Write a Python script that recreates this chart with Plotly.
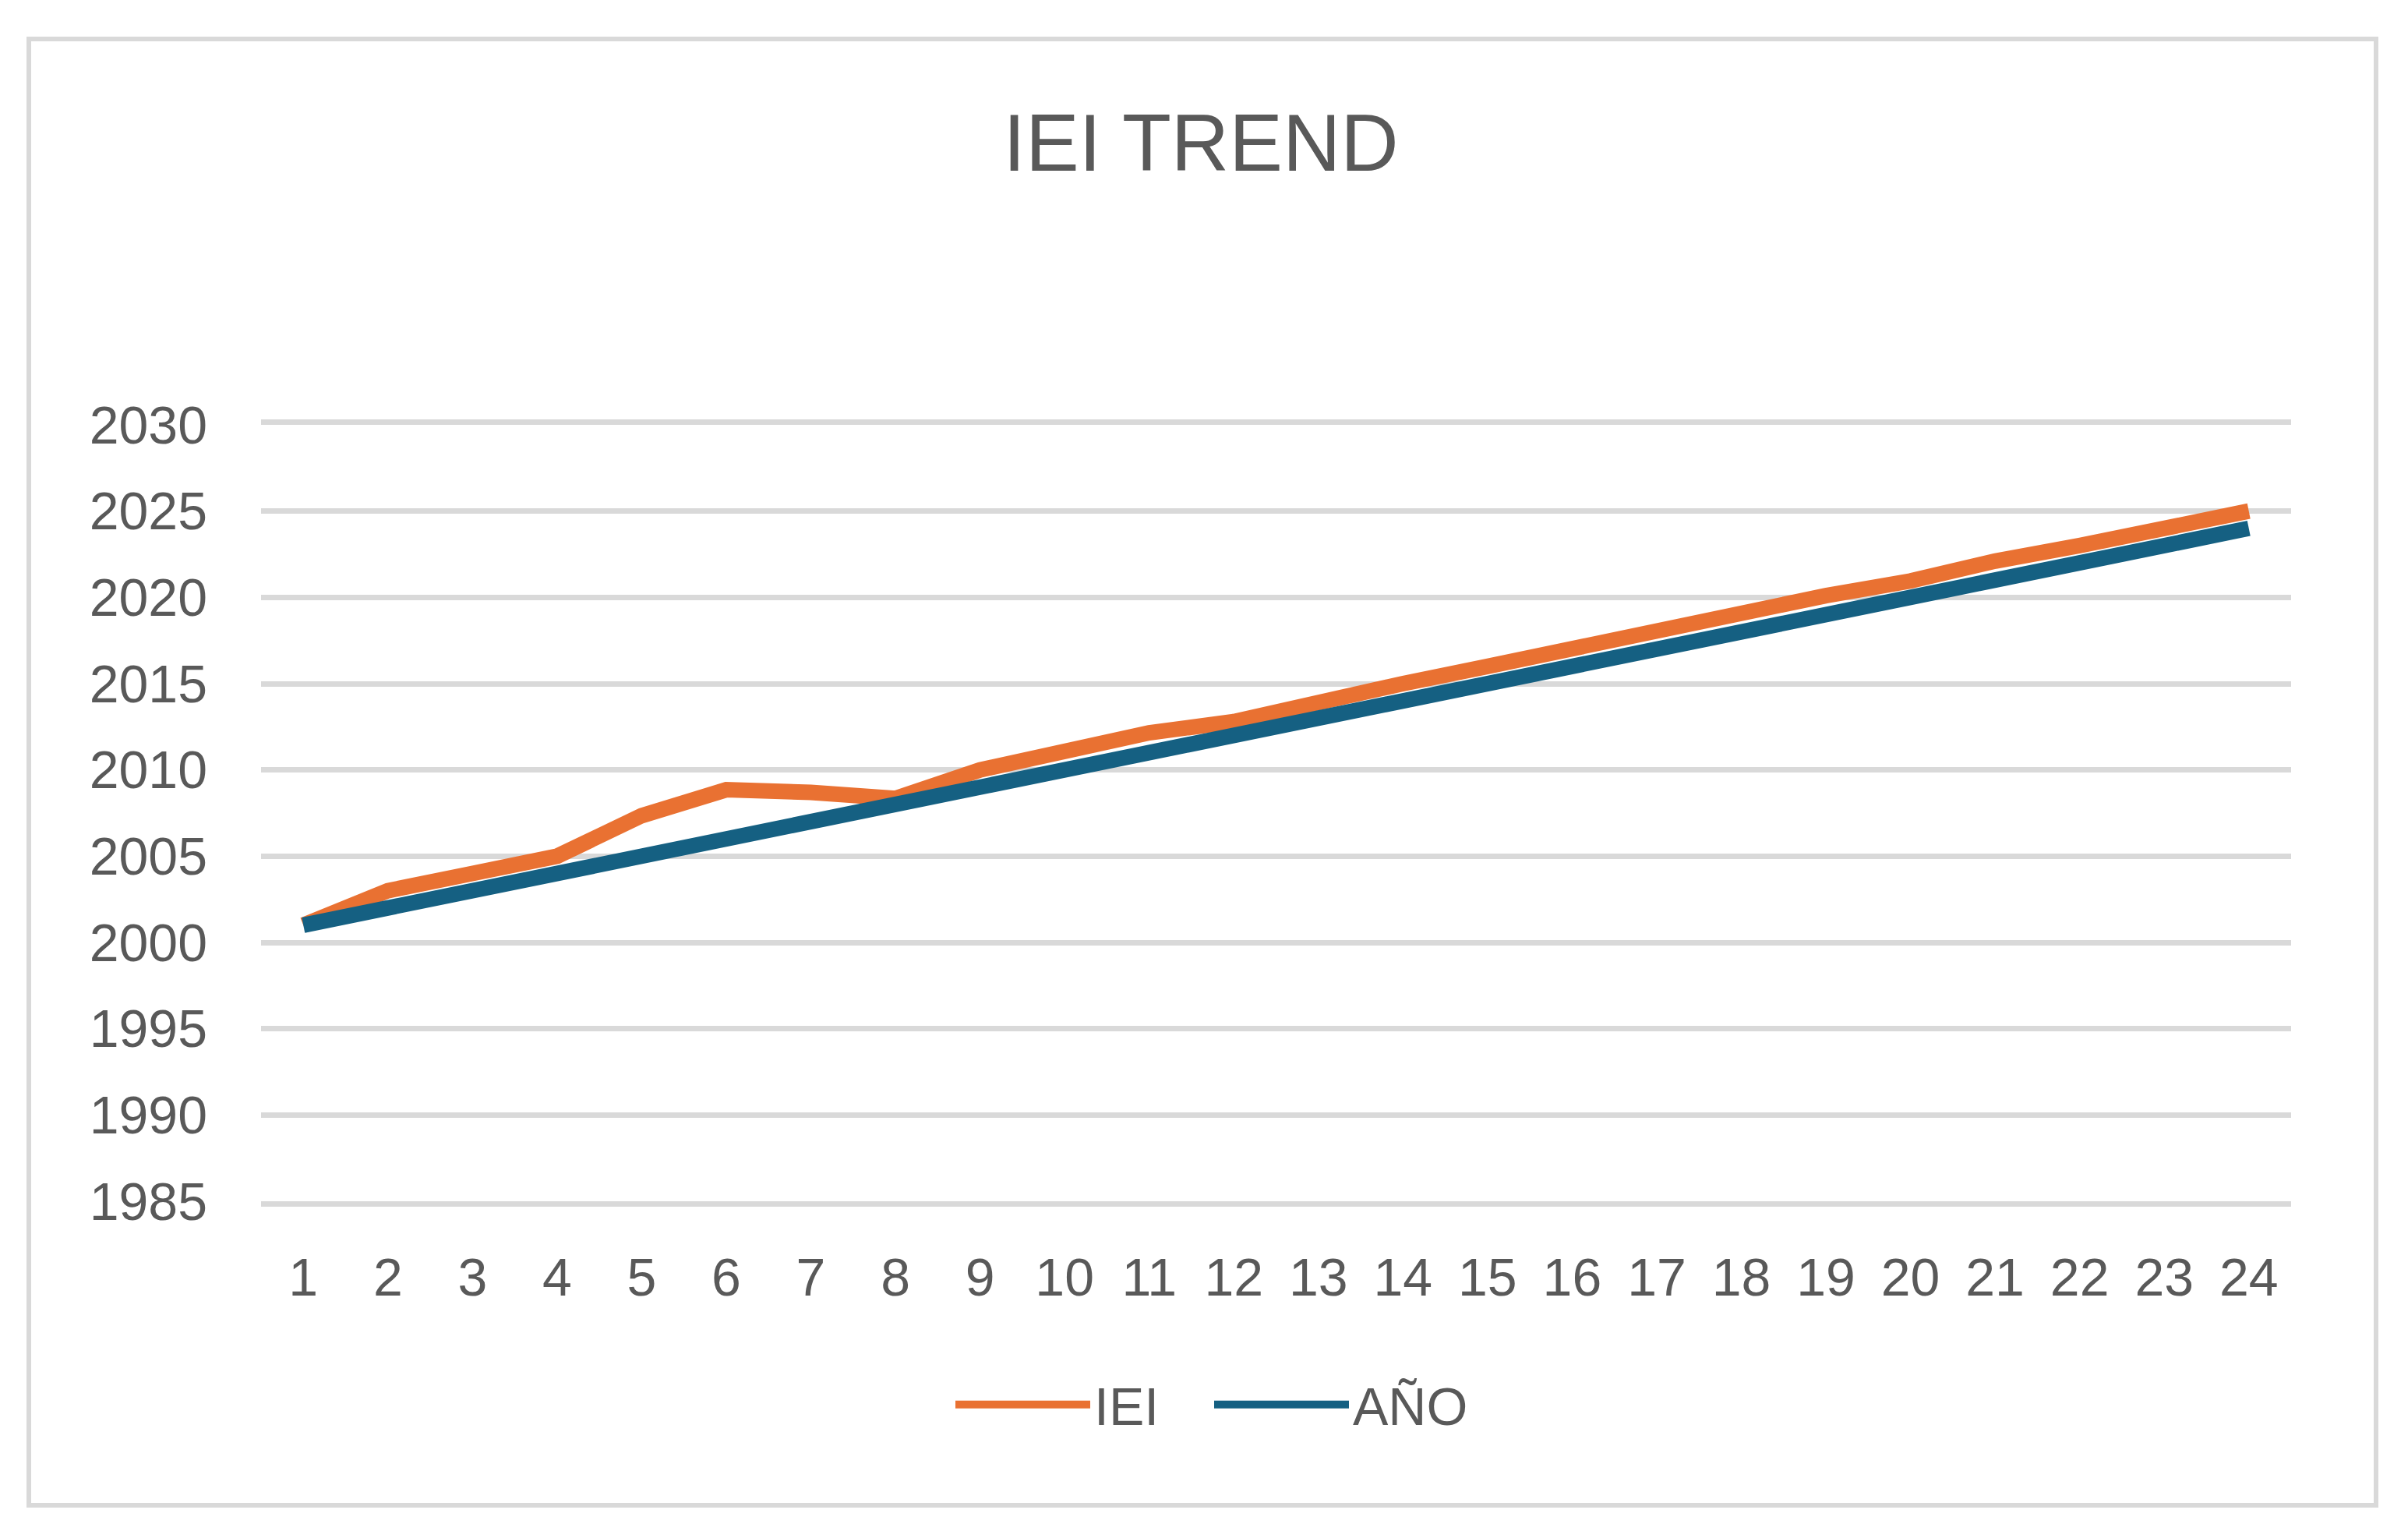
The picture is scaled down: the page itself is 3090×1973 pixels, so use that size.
import plotly.graph_objects as go

categories = list(range(1, 25))
iei = [2001, 2003, 2004, 2005, 2007.35, 2008.85, 2008.7, 2008.35, 2010, 2011,
       2012.15, 2012.8, 2014, 2015, 2016, 2017.05, 2018, 2019.1, 2020.1, 2020.95,
       2022.1, 2023, 2024, 2025]
anio = [2001, 2002, 2003, 2004, 2005, 2006, 2007, 2008, 2009, 2010,
        2011, 2012, 2013, 2014, 2015, 2016, 2017, 2018, 2019, 2020,
        2021, 2022, 2023, 2024]
y_ticks = [1985, 1990, 1995, 2000, 2005, 2010, 2015, 2020, 2025, 2030]

OFF = 8  # default body margin of the html page
W, H = 3090 - OFF, 1973 - OFF
PL, PR, PT, PB = 335, 2940, 545, 1541  # plot area in screen pixels
L, T = PL - OFF, PT - OFF
pw, ph = PR - PL, PB - PT
R, B = W - L - pw, H - T - ph

TEXT = "#595959"
GRID = "#d9d9d9"
FONT = "Liberation Sans, Arial, sans-serif"

fig = go.Figure()
fig.add_trace(go.Scatter(x=categories, y=iei, mode="lines", name="IEI",
                         line=dict(color="#E97132", width=20)))
fig.add_trace(go.Scatter(x=categories, y=anio, mode="lines", name="AÑO",
                         line=dict(color="#156082", width=20)))

def px_x(p):
    return (p - PL) / pw

def px_y(p):
    return (PB - p) / ph

fig.update_layout(
    width=W, height=H,
    margin=dict(l=L, r=R, t=T, b=B),
    paper_bgcolor="white", plot_bgcolor="white",
    font=dict(family=FONT, color=TEXT, size=68),
    title=dict(text="IEI TREND", x=(1541 - OFF) / W, xref="container", xanchor="center",
               y=1 - (183 - OFF) / H, yref="container", yanchor="middle",
               font=dict(size=103, color=TEXT, family=FONT)),
    showlegend=True,
    legend=dict(orientation="h", x=px_x(1553), xanchor="center",
                y=px_y(1802), yanchor="middle",
                font=dict(size=68, color=TEXT), itemwidth=173,
                entrywidth=144, entrywidthmode="pixels",
                bgcolor="rgba(0,0,0,0)"),
    xaxis=dict(range=[0.5, 24.5], tickvals=categories,
               ticktext=[str(c) for c in categories],
               showgrid=False, zeroline=False, showline=True, mirror=True,
               linecolor=GRID, linewidth=7, ticks="",
               tickfont=dict(size=68, color=TEXT), ticklabelstandoff=32),
    yaxis=dict(range=[1985, 2030], tickvals=y_ticks,
               showgrid=True, gridcolor=GRID, gridwidth=7, zeroline=False,
               showline=False, ticks="",
               tickfont=dict(size=68, color=TEXT), ticklabelstandoff=68),
)

fig.add_shape(type="rect", xref="paper", yref="paper",
              x0=px_x(37), x1=px_x(3049), y0=px_y(1931), y1=px_y(50),
              line=dict(color=GRID, width=6), layer="below")

fig.write_html("out.html")
